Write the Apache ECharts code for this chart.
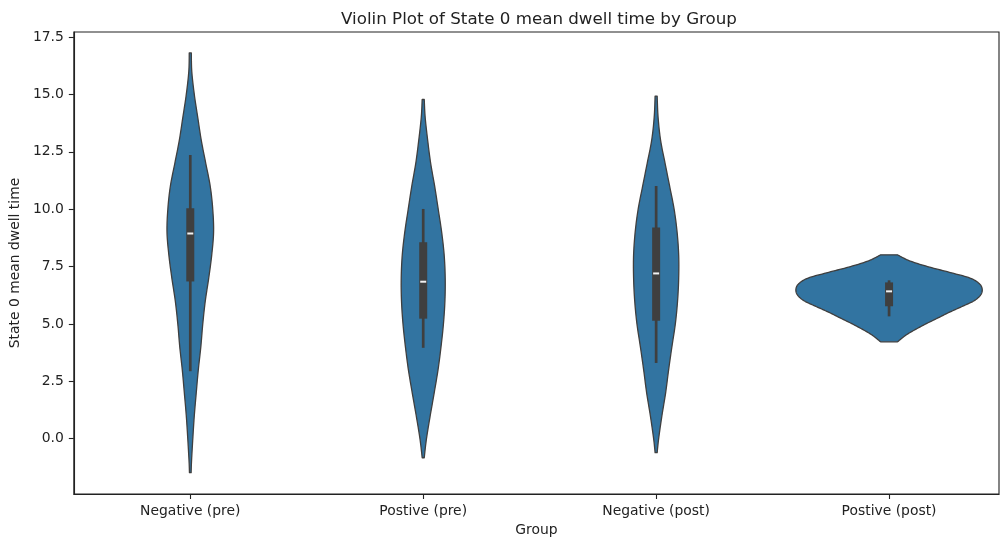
<!DOCTYPE html>
<html>
<head>
<meta charset="utf-8">
<script src="https://cdn.jsdelivr.net/npm/echarts@6/dist/echarts.min.js"></script>
<style>html,body{margin:0;padding:0;background:#fff;}#chart{width:1000px;height:542px;}</style>
</head>
<body>
<div id="chart"></div>
<script>
// ---- data ----
var categories = ['Negative (pre)', 'Postive (pre)', 'Negative (post)', 'Postive (post)'];
var categoryTicks = [0, 1, 2, 3];
var yTicks = [0, 2.5, 5, 7.5, 10, 12.5, 15, 17.5];

// KDE outline: y values and relative density (1 = widest violin)
var negPreY = [16.81, 16, 15, 14, 13, 12, 11, 10, 9, 8, 7, 6, 5, 4, 3, 2, 1, 0, -1, -1.48];
var negPreD = [0.011, 0.016, 0.043, 0.080, 0.118, 0.166, 0.214, 0.241, 0.250, 0.230, 0.198, 0.161, 0.134, 0.113, 0.086, 0.064, 0.043, 0.027, 0.013, 0.009];
var posPreY = [14.78, 14, 13, 12, 11, 10, 9, 8, 7, 6, 5, 4, 3, 2, 1, 0, -0.83];
var posPreD = [0.011, 0.021, 0.048, 0.080, 0.123, 0.161, 0.198, 0.225, 0.236, 0.233, 0.217, 0.191, 0.159, 0.118, 0.075, 0.035, 0.011];
var negPostY = [14.93, 14, 13, 12, 11, 10, 9, 8, 7, 6, 5, 4, 3, 2, 1, 0, -0.61];
var negPostD = [0.011, 0.021, 0.048, 0.096, 0.145, 0.193, 0.225, 0.242, 0.242, 0.230, 0.206, 0.169, 0.134, 0.102, 0.062, 0.027, 0.011];
var posPostY = [8.01, 7.75, 7.5, 7.25, 7.0, 6.75, 6.5, 6.25, 6.0, 5.75, 5.5, 5.25, 5.0, 4.75, 4.5, 4.22];
var posPostD = [0.091, 0.220, 0.413, 0.648, 0.868, 0.970, 1.000, 0.981, 0.909, 0.778, 0.643, 0.519, 0.394, 0.279, 0.177, 0.091];

// box statistics
var whiskerLow  = [2.94, 3.96, 3.30, 5.33];
var q1          = [6.85, 5.23, 5.14, 5.77];
var median      = [8.94, 6.84, 7.20, 6.42];
var q3          = [10.04, 8.56, 9.20, 6.81];
var whiskerHigh = [12.36, 10.01, 11.01, 6.90];

// ---- chart ----
var kdeY = [negPreY, posPreY, negPostY, posPostY];
var kdeD = [negPreD, posPreD, negPostD, posPostD];

var chart = echarts.init(document.getElementById('chart'));
var textColor = '#222';
var fontFamily = 'DejaVu Sans';

// Catmull-Rom curve through pixel points (rendering only)
function curveThrough(p) {
  var out = [], n = p.length, steps = 10;
  for (var i = 0; i < n - 1; i++) {
    var p0 = p[Math.max(i - 1, 0)], p1 = p[i], p2 = p[i + 1], p3 = p[Math.min(i + 2, n - 1)];
    for (var s = 0; s < steps; s++) {
      var t = s / steps, t2 = t * t, t3 = t2 * t;
      var f = function (a, b, c, d) {
        return 0.5 * ((2 * b) + (-a + c) * t + (2 * a - 5 * b + 4 * c - d) * t2 + (-a + 3 * b - 3 * c + d) * t3);
      };
      out.push([f(p0[0], p1[0], p2[0], p3[0]), f(p0[1], p1[1], p2[1], p3[1])]);
    }
  }
  out.push(p[n - 1]);
  return out;
}

function renderViolin(params, api) {
  var i = params.dataIndex;
  var ys = kdeY[i], ds = kdeD[i];
  var cx = api.coord([i, 0])[0];
  var band = api.size([1, 0])[0];
  var maxHalf = band * 0.4;
  var prof = [];
  for (var k = 0; k < ys.length; k++) {
    prof.push([ds[k] * maxHalf, api.coord([i, ys[k]])[1]]);
  }
  var sm = curveThrough(prof);
  var right = [], left = [];
  for (var m = 0; m < sm.length; m++) {
    var hw = Math.max(sm[m][0], 0.5);
    right.push([cx + hw, sm[m][1]]);
    left.unshift([cx - hw, sm[m][1]]);
  }
  var pts = right.concat(left);
  var yWl = api.coord([i, whiskerLow[i]])[1];
  var yWh = api.coord([i, whiskerHigh[i]])[1];
  var yQ1 = api.coord([i, q1[i]])[1];
  var yQ3 = api.coord([i, q3[i]])[1];
  var yMd = api.coord([i, median[i]])[1];
  return {
    type: 'group',
    children: [
      { type: 'polygon', shape: { points: pts },
        style: { fill: '#3274a1', stroke: '#3f3f3f', lineWidth: 1.3, lineJoin: 'round' } },
      { type: 'line', shape: { x1: cx, y1: yWh, x2: cx, y2: yWl },
        style: { stroke: '#3f3f3f', lineWidth: 2.7 } },
      { type: 'rect', shape: { x: cx - 4, y: yQ3, width: 8, height: yQ1 - yQ3 },
        style: { fill: '#3f3f3f' } },
      { type: 'rect', shape: { x: cx - 3, y: yMd - 1, width: 6, height: 2 },
        style: { fill: '#f2f2f2' } }
    ]
  };
}

chart.setOption({
  animation: false,
  title: {
    text: 'Violin Plot of State 0 mean dwell time by Group',
    left: 534, top: 6, textAlign: 'center',
    textStyle: { fontFamily: fontFamily, fontSize: 16.7, fontWeight: 'normal', color: textColor }
  },
  grid: { left: 73, top: 32, right: 1, bottom: 47, show: true, borderColor: '#222', borderWidth: 1.1 },
  xAxis: {
    type: 'value',
    min: -0.5, max: 3.472,
    name: 'Group', nameLocation: 'middle', nameGap: 29,
    nameTextStyle: { fontFamily: fontFamily, fontSize: 13.9, color: textColor },
    axisLine: { onZero: false, lineStyle: { color: '#222', width: 1.1 } },
    axisTick: { show: true, length: 5, customValues: categoryTicks, lineStyle: { color: '#222', width: 1.1 } },
    axisLabel: { customValues: categoryTicks, margin: 10, fontFamily: fontFamily, fontSize: 13.9, color: textColor,
      formatter: function (v) { return categories[Math.round(v)] || ''; } },
    splitLine: { show: false }
  },
  yAxis: {
    type: 'value',
    min: -2.41, max: 17.72,
    name: 'State 0 mean dwell time', nameLocation: 'middle', nameGap: 46, nameRotate: 90,
    nameTextStyle: { fontFamily: fontFamily, fontSize: 13.9, color: textColor },
    axisLine: { show: true, onZero: false, lineStyle: { color: '#222', width: 1.1 } },
    axisTick: { show: true, length: 5, customValues: yTicks, lineStyle: { color: '#222', width: 1.1 } },
    axisLabel: { customValues: yTicks, margin: 10, fontFamily: fontFamily, fontSize: 13.9, color: textColor,
      formatter: function (v) { return v.toFixed(1); } },
    splitLine: { show: false }
  },
  series: [{
    type: 'custom',
    renderItem: renderViolin,
    clip: false,
    data: categories.map(function (c, i) { return [i, median[i]]; })
  }]
});
</script>
</body>
</html>
